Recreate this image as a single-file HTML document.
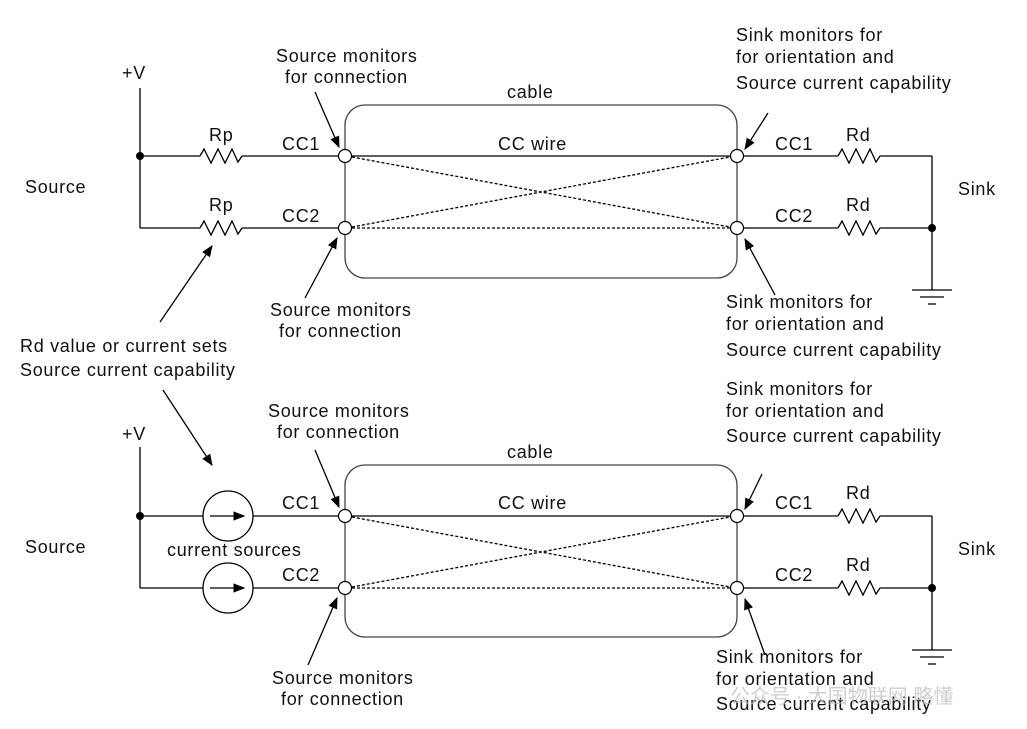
<!DOCTYPE html>
<html><head><meta charset="utf-8"><style>
body{margin:0;background:#fff}
svg text{font-family:"Liberation Sans",Arial,sans-serif;font-size:18px;letter-spacing:0.7px;fill:#111}
</style></head><body>
<svg width="1027" height="724" viewBox="0 0 1027 724" xmlns="http://www.w3.org/2000/svg">
<defs>
<marker id="a" viewBox="0 0 10 10" refX="9" refY="5" markerWidth="9" markerHeight="9" orient="auto"><path d="M0,1 L10,5 L0,9 z" fill="#000"/></marker>
<g id="res"><polyline points="0,0 4,-7 11,7 18,-7 25,7 32,-7 38,6 42,0" fill="none" stroke="#000" stroke-width="1.3"/></g>
<g id="gnd" stroke="#000" stroke-width="1.3"><line x1="-20" y1="0" x2="20" y2="0"/><line x1="-12" y1="7" x2="12" y2="7"/><line x1="-4" y1="14" x2="4" y2="14"/></g>
</defs>
<g stroke="#000" stroke-width="1.3" fill="none">
<line x1="140" y1="88" x2="140" y2="228"/>
<line x1="140" y1="156" x2="200" y2="156"/><line x1="242" y1="156" x2="338" y2="156"/>
<line x1="140" y1="228" x2="200" y2="228"/><line x1="242" y1="228" x2="338" y2="228"/>
<rect x="345" y="105" width="392" height="173" rx="20" stroke="#444"/>
<line x1="352" y1="156" x2="730" y2="156"/>
<line x1="352" y1="228" x2="730" y2="228" stroke-dasharray="3,2"/>
<line x1="352" y1="157" x2="730" y2="227" stroke-dasharray="3,2"/>
<line x1="352" y1="227" x2="730" y2="157" stroke-dasharray="3,2"/>
<line x1="744" y1="156" x2="838" y2="156"/><line x1="880" y1="156" x2="932" y2="156"/>
<line x1="744" y1="228" x2="838" y2="228"/><line x1="880" y1="228" x2="932" y2="228"/>
<line x1="932" y1="156" x2="932" y2="290"/>
<line x1="140" y1="447" x2="140" y2="588"/>
<line x1="140" y1="516" x2="203" y2="516"/><line x1="253" y1="516" x2="338" y2="516"/>
<line x1="140" y1="588" x2="203" y2="588"/><line x1="253" y1="588" x2="338" y2="588"/>
<rect x="345" y="465" width="392" height="172" rx="20" stroke="#444"/>
<line x1="352" y1="516" x2="730" y2="516"/>
<line x1="352" y1="588" x2="730" y2="588" stroke-dasharray="3,2"/>
<line x1="352" y1="517" x2="730" y2="587" stroke-dasharray="3,2"/>
<line x1="352" y1="587" x2="730" y2="517" stroke-dasharray="3,2"/>
<line x1="744" y1="516" x2="838" y2="516"/><line x1="880" y1="516" x2="932" y2="516"/>
<line x1="744" y1="588" x2="838" y2="588"/><line x1="880" y1="588" x2="932" y2="588"/>
<line x1="932" y1="516" x2="932" y2="650"/>
<circle cx="228" cy="516" r="25"/><circle cx="228" cy="588" r="25"/>
<line x1="210" y1="516" x2="244" y2="516" marker-end="url(#a)"/>
<line x1="210" y1="588" x2="244" y2="588" marker-end="url(#a)"/>
<line x1="315" y1="92" x2="339" y2="147" marker-end="url(#a)"/>
<line x1="305" y1="298" x2="337" y2="238" marker-end="url(#a)"/>
<line x1="768" y1="113" x2="745" y2="149" marker-end="url(#a)"/>
<line x1="775" y1="295" x2="745" y2="239" marker-end="url(#a)"/>
<line x1="160" y1="322" x2="212" y2="246" marker-end="url(#a)"/>
<line x1="163" y1="390" x2="212" y2="465" marker-end="url(#a)"/>
<line x1="315" y1="450" x2="339" y2="507" marker-end="url(#a)"/>
<line x1="308" y1="665" x2="337" y2="598" marker-end="url(#a)"/>
<line x1="762" y1="474" x2="745" y2="509" marker-end="url(#a)"/>
<line x1="765" y1="655" x2="745" y2="599" marker-end="url(#a)"/>
</g>
<use href="#res" x="200" y="156"/><use href="#res" x="200" y="228"/>
<use href="#res" x="838" y="156"/><use href="#res" x="838" y="228"/>
<use href="#res" x="838" y="516"/><use href="#res" x="838" y="588"/>
<use href="#gnd" x="932" y="290"/><use href="#gnd" x="932" y="650"/>
<g fill="#fff" stroke="#000" stroke-width="1.2">
<circle cx="345" cy="156" r="6.5"/><circle cx="345" cy="228" r="6.5"/><circle cx="737" cy="156" r="6.5"/><circle cx="737" cy="228" r="6.5"/>
<circle cx="345" cy="516" r="6.5"/><circle cx="345" cy="588" r="6.5"/><circle cx="737" cy="516" r="6.5"/><circle cx="737" cy="588" r="6.5"/>
</g>
<g fill="#000"><circle cx="140" cy="156" r="4"/><circle cx="932" cy="228" r="4"/><circle cx="140" cy="516" r="4"/><circle cx="932" cy="588" r="4"/></g>
<text x="122" y="79">+V</text>
<text x="276" y="62">Source monitors</text><text x="285" y="83">for connection</text>
<text x="507" y="98">cable</text>
<text x="736" y="41">Sink monitors for</text><text x="736" y="63">for orientation and</text><text x="736" y="89">Source current capability</text>
<text x="209" y="141">Rp</text><text x="209" y="211">Rp</text>
<text x="282" y="150">CC1</text><text x="282" y="222">CC2</text>
<text x="498" y="150">CC wire</text>
<text x="775" y="150">CC1</text><text x="775" y="222">CC2</text>
<text x="846" y="141">Rd</text><text x="846" y="211">Rd</text>
<text x="25" y="193">Source</text><text x="958" y="195">Sink</text>
<text x="270" y="316">Source monitors</text><text x="279" y="337">for connection</text>
<text x="726" y="308">Sink monitors for</text><text x="726" y="330">for orientation and</text><text x="726" y="356">Source current capability</text>
<text x="20" y="352">Rd value or current sets</text><text x="20" y="376">Source current capability</text>
<text x="122" y="440">+V</text>
<text x="268" y="417">Source monitors</text><text x="277" y="438">for connection</text>
<text x="507" y="458">cable</text>
<text x="726" y="395">Sink monitors for</text><text x="726" y="417">for orientation and</text><text x="726" y="442">Source current capability</text>
<text x="282" y="509">CC1</text><text x="282" y="581">CC2</text>
<text x="498" y="509">CC wire</text>
<text x="167" y="556">current sources</text>
<text x="775" y="509">CC1</text><text x="775" y="581">CC2</text>
<text x="846" y="499">Rd</text><text x="846" y="571">Rd</text>
<text x="25" y="553">Source</text><text x="958" y="555">Sink</text>
<text x="272" y="684">Source monitors</text><text x="281" y="705">for connection</text>
<text x="716" y="663">Sink monitors for</text><text x="716" y="685">for orientation and</text><text x="716" y="710">Source current capability</text>
<text x="730" y="703" style="fill:#bbb;font-family:'Liberation Sans','Noto Sans CJK SC',sans-serif;font-size:20px;letter-spacing:0;opacity:.7">公众号 · 大国物联网 略懂</text>
</svg>
</body></html>
